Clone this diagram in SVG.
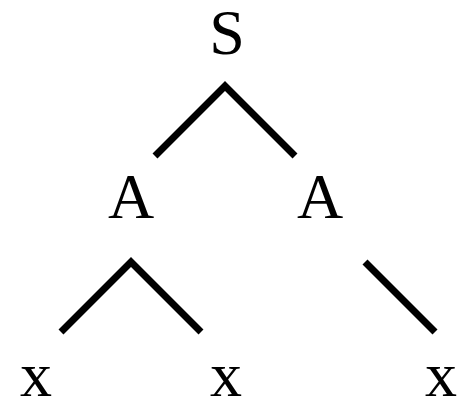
<svg xmlns="http://www.w3.org/2000/svg" width="460" height="401" viewBox="0 0 460 401">
<style>
text{font-family:"Liberation Serif","Times New Roman",serif;font-size:64px;fill:#000;text-anchor:middle}
.e{stroke:#000;stroke-width:7;fill:none;stroke-linecap:butt;stroke-linejoin:miter}
</style>
<rect width="460" height="401" fill="#fff"/>
<g id="edges">
<polyline class="e" points="155,156 225,86 295,156"/>
<polyline class="e" points="61,332 131,262 201,332"/>
<line class="e" x1="365" y1="262" x2="435" y2="332"/>
</g>
<g id="S"><text x="227" y="54">S</text></g>
<g id="A1"><text x="131" y="218">A</text></g>
<g id="A2"><text x="320" y="218">A</text></g>
<g id="x1"><text x="36" y="396">x</text></g>
<g id="x2"><text x="226" y="396">x</text></g>
<g id="x3"><text x="441" y="396">x</text></g>
</svg>
